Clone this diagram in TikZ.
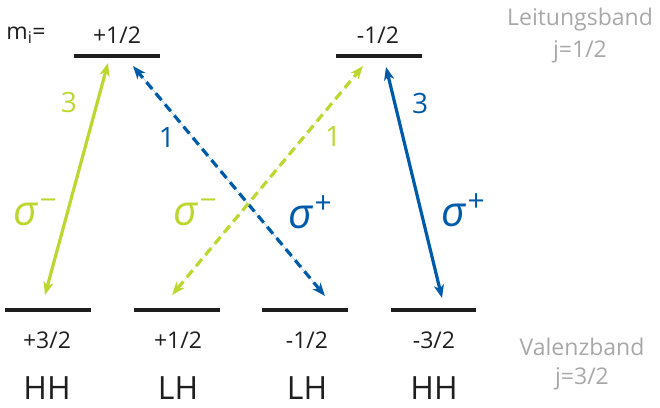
\documentclass[tikz,border=0pt]{standalone}
\usepackage{fontspec}
\setmainfont{Open Sans}
\newfontfamily\sigfont{Open Sans}
\usetikzlibrary{arrows.meta}
\definecolor{lime}{RGB}{190,214,48}
\definecolor{dblue}{RGB}{0,90,170}
\definecolor{lgray}{RGB}{168,168,168}
\definecolor{ink}{RGB}{30,30,30}
\newcommand\sgmlabel[1]{{\sigfont\itshape σ}\kern2pt\raisebox{0.36em}{\fontsize{30}{32}\selectfont #1}}
\begin{document}
\begin{tikzpicture}[x=1pt,y=-1pt,
  level/.style={line width=4pt, draw=ink},
  lbl/.style={font=\fontsize{23}{26}\selectfont, text=ink, inner sep=0pt},
  band/.style={font=\fontsize{23}{26}\selectfont, text=lgray, inner sep=0pt},
  hl/.style={font=\fontsize{32}{36}\selectfont, text=ink, inner sep=0pt, anchor=base},
  tr/.style={line width=3.2pt, {Stealth[length=13pt,width=10pt,inset=3.5pt]}-{Stealth[length=13pt,width=10pt,inset=3.5pt]}},
  dsh/.style={dash pattern=on 9pt off 5.5pt},
  num/.style={font=\fontsize{28}{30}\selectfont, inner sep=0pt},
  sig/.style={font=\fontsize{42}{44}\selectfont, inner sep=0pt}]
\useasboundingbox (0,0) rectangle (660,407);
% levels
\coordinate (c1a) at (74,56);  \coordinate (c1b) at (160,56);
\coordinate (c2a) at (336,56); \coordinate (c2b) at (422,56);
\coordinate (v1a) at (5,310);   \coordinate (v1b) at (91,310);
\coordinate (v2a) at (134,310); \coordinate (v2b) at (220,310);
\coordinate (v3a) at (262,310); \coordinate (v3b) at (348,310);
\coordinate (v4a) at (391,310); \coordinate (v4b) at (476,310);
\draw[level] (c1a) -- (c1b);
\draw[level] (c2a) -- (c2b);
\draw[level] (v1a) -- (v1b);
\draw[level] (v2a) -- (v2b);
\draw[level] (v3a) -- (v3b);
\draw[level] (v4a) -- (v4b);
% labels
\node[lbl] (mi) at (26,35) {m\textsubscript{i}=};
\node[lbl] (t1) at (117,35) {+1/2};
\node[lbl] (t2) at (378,35) {-1/2};
\node[band] (lb) at (580,20) {Leitungsband};
\node[band] (lj) at (580,52) {j=1/2};
\node[lbl] (b1) at (47,340) {+3/2};
\node[lbl] (b2) at (178,340) {+1/2};
\node[lbl] (b3) at (307,340) {-1/2};
\node[lbl] (b4) at (434,340) {-3/2};
\node[band] (vb) at (582,347) {Valenzband};
\node[band] (vj) at (582,379) {j=3/2};
\node[hl] (h1) at (47,399) {HH};
\node[hl] (h2) at (178,399) {LH};
\node[hl] (h3) at (307,399) {LH};
\node[hl] (h4) at (434,399) {HH};
% transitions
\coordinate (g1t) at (108,63);  \coordinate (g1b) at (45,295);
\coordinate (b1t) at (133,66);  \coordinate (b1b) at (325,296);
\coordinate (g2t) at (363,66);  \coordinate (g2b) at (172,295);
\coordinate (b2t) at (386,67);  \coordinate (b2b) at (442,298);
\draw[tr, draw=lime, fill=lime] (g1b) -- (g1t);
\draw[tr, dsh, draw=dblue, fill=dblue] (b1b) -- (b1t);
\draw[tr, dsh, draw=lime, fill=lime] (g2b) -- (g2t);
\draw[tr, draw=dblue, fill=dblue] (b2b) -- (b2t);
% strengths
\node[num, text=lime] (n1) at (69,102) {3};
\node[num, text=dblue] (n2) at (167,138) {1};
\node[num, text=lime] (n3) at (333,137) {1};
\node[num, text=dblue] (n4) at (420,103) {3};
% polarisations
\node[sig, text=lime] (s1) at (35,212) {\sgmlabel{−}};
\node[sig, text=lime] (s2) at (195,212) {\sgmlabel{−}};
\node[sig, text=dblue] (s3) at (310,212) {\sgmlabel{+}};
\node[sig, text=dblue] (s4) at (463,210) {\sgmlabel{+}};
\end{tikzpicture}
\end{document}
